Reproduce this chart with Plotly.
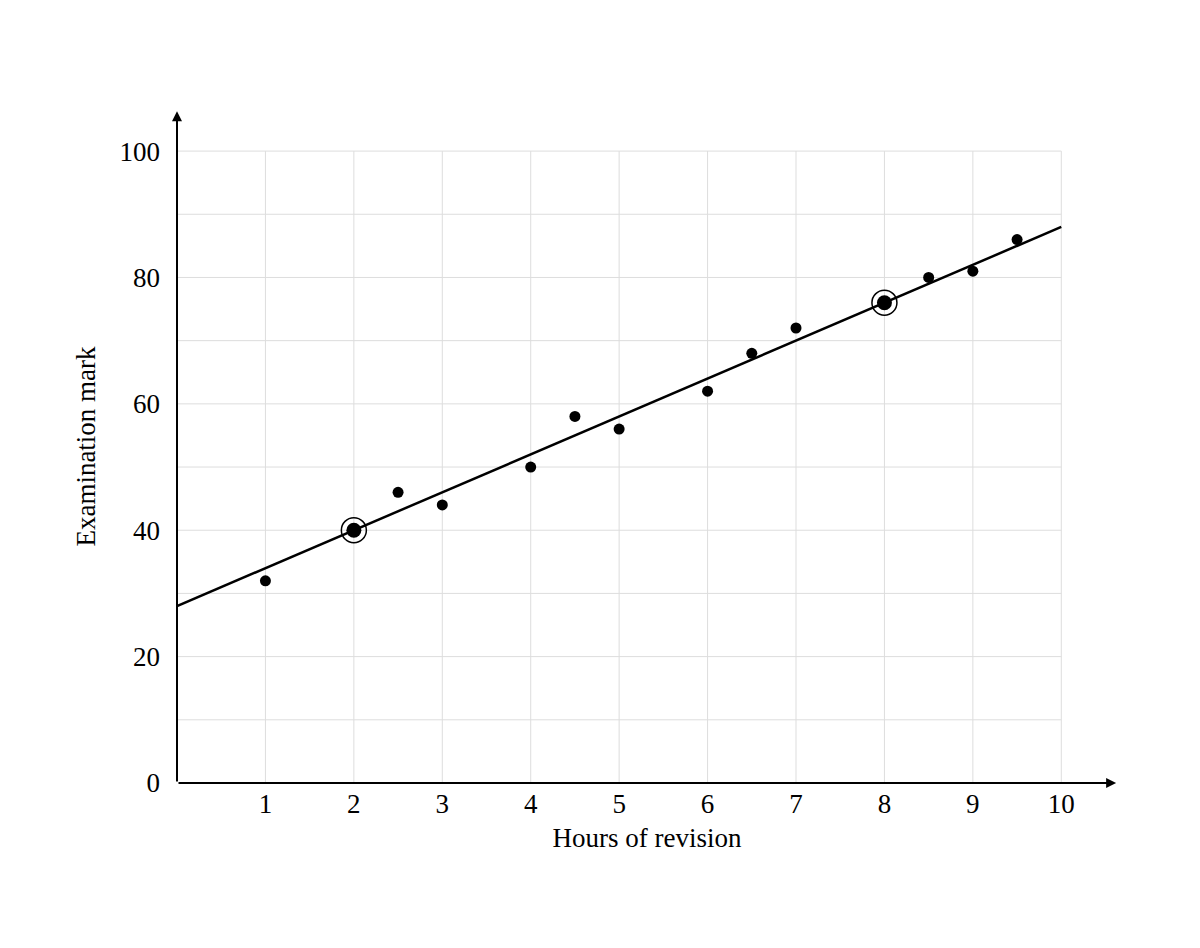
import plotly.graph_objects as go

hours = [1, 2, 2.5, 3, 4, 4.5, 5, 6, 6.5, 7, 8, 8.5, 9, 9.5]
marks = [32, 40, 46, 44, 50, 58, 56, 62, 68, 72, 76, 80, 81, 86]
line_x = [0, 10]
line_y = [28, 88]
circled_x = [2, 8]
circled_y = [40, 76]
x_ticks = [1, 2, 3, 4, 5, 6, 7, 8, 9, 10]
y_ticks = [0, 20, 40, 60, 80, 100]
y_grid = [10, 20, 30, 40, 50, 60, 70, 80, 90, 100]

fig = go.Figure()

# grid lines stop at 10 / 100, axes go further with arrows
for gx in x_ticks:
    fig.add_shape(type='line', x0=gx, x1=gx, y0=0, y1=100,
                  line=dict(color='#dddddd', width=1), layer='below')
for gy in y_grid:
    fig.add_shape(type='line', x0=0, x1=10, y0=gy, y1=gy,
                  line=dict(color='#dddddd', width=1), layer='below')

fig.add_trace(go.Scatter(x=line_x, y=line_y, mode='lines',
                         line=dict(color='black', width=2.5), showlegend=False))
fig.add_trace(go.Scatter(x=hours, y=marks, mode='markers',
                         marker=dict(color='black', size=11), showlegend=False))
fig.add_trace(go.Scatter(x=circled_x, y=circled_y, mode='markers',
                         marker=dict(color='rgba(0,0,0,0)', size=25,
                                     line=dict(color='black', width=1.5)),
                         showlegend=False))
fig.add_trace(go.Scatter(x=circled_x, y=circled_y, mode='markers',
                         marker=dict(color='black', size=15), showlegend=False))

for (x, y) in [(10.62, 0), (0, 106.3)]:
    fig.add_annotation(x=x, y=y, ax=0, ay=0, xref='x', yref='y', axref='x', ayref='y',
                       text='', showarrow=True, arrowhead=2, arrowsize=1,
                       arrowwidth=2, arrowcolor='black')

font = dict(family='Liberation Serif', size=27, color='black')
fig.update_layout(
    width=1200, height=948,
    plot_bgcolor='white', paper_bgcolor='white',
    margin=dict(l=169, r=91, t=102, b=173),
    font=font,
    xaxis=dict(range=[0, 10.63], showgrid=False, zeroline=False, showline=False,
               tickvals=x_ticks, ticks='', tickfont=font, automargin=False,
               ticklabelstandoff=2,
               title=dict(text='Hours of revision', font=font, standoff=10)),
    yaxis=dict(range=[0, 106.5], showgrid=False, zeroline=False, showline=False,
               tickvals=y_ticks, ticks='', tickfont=font, automargin=False,
               ticklabelstandoff=16,
               title=dict(text='Examination mark', font=font, standoff=16)),
)

fig.write_html("out.html")
